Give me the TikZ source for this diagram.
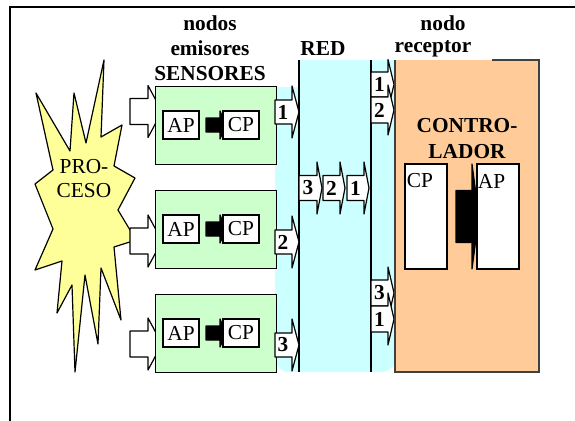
\documentclass[tikz,border=0pt]{standalone}
\usepackage{fontspec}
\setmainfont{Liberation Serif}

\definecolor{procyellow}{HTML}{FFFF99}
\definecolor{sensgreen}{HTML}{CCFFCC}
\definecolor{redcyan}{HTML}{CCFFFF}
\definecolor{ctrlorange}{HTML}{FFCC99}

% block arrow: [style] {x start}{x head}{x tip}{y centre}{half shaft}{half head}
\newcommand{\blockarr}[7][]{%
  \filldraw[arrbody,#1] (#2,#5-#6) -- (#3,#5-#6) -- (#3,#5-#7) -- (#4,#5)
    -- (#3,#5+#7) -- (#3,#5+#6) -- (#2,#5+#6) -- cycle;}

\begin{document}
\begin{tikzpicture}[x=0.75pt, y=-0.75pt, line width=0.9pt,
    font=\fontsize{16}{18.75}\selectfont,
    arrbody/.style={draw=black, fill=white, line join=round},
    numtxt/.style={font=\fontsize{16}{18}\selectfont\bfseries, inner sep=0pt},
    headlbl/.style={font=\fontsize{16}{18.75}\selectfont\bfseries, align=center, inner sep=0pt},
    unit/.style={draw, fill=white, minimum width=27pt, minimum height=21pt, inner sep=0pt}]
  \useasboundingbox (0,0) rectangle (575,421);
  % frame
  \draw[line width=1.5pt] (575,7) -- (10,7) -- (10,421);
  % network
  \fill[redcyan] (275,87) rectangle (395,300);
  \fill[redcyan] (299,60) rectangle (395,90);
  \fill[redcyan, rounded corners=10] (275,280) rectangle (395,372);
  \draw (299,60) -- (299,372);
  \draw (371,60) -- (371,372);
  % process
  \filldraw[fill=procyellow, line join=round] (36,93) -- (70,151) -- (74,93) -- (86,143) -- (104,60)
    -- (101,137) -- (122,125) -- (114,166) -- (135,178) -- (118,210) -- (136,240)
    -- (114,247) -- (121,320) -- (101,268) -- (98,344) -- (85,275) -- (75,372)
    -- (72,285) -- (57,313) -- (62,261) -- (35,270) -- (53,229) -- (35,184)
    -- (53,170) -- cycle;
  \node[align=center, inner sep=0pt, font=\fontsize{16}{18}\selectfont] (proc) at (84,179) {PRO-\\CESO};
  % sensors
  \foreach \y/\i/\o/\n in {86/111.5/112/1, 190/241/242/2, 294/344/345/3}{
    \blockarr{130}{148}{162}{\i}{13}{26}
    \node[draw, fill=sensgreen, anchor=north west, minimum width=90.75pt,
      minimum height=58.5pt, inner sep=0pt] (sens\n) at (155,\y) {};
    \node[unit] (ap\n) at (181,\y+39) {AP};
    \blockarr[fill=black]{206}{220}{226}{\y+39}{7}{14}
    \node[unit] (cp\n) at (241,\y+39) {CP};
    \blockarr{275}{292}{299}{\o}{12}{26}
    \node[numtxt] (out\n) at (283,\o) {\n};
  }
  % packets on the network
  \blockarr{299}{317}{322}{188}{12.5}{26}
  \node[numtxt] (net3) at (308,188) {3};
  \blockarr{323}{340}{345}{188}{12.5}{26}
  \node[numtxt] (net2) at (331.5,188) {2};
  \blockarr{347}{364}{369}{188}{12.5}{26}
  \node[numtxt] (net1) at (355.5,188) {1};
  \blockarr{371}{388}{394}{84.5}{12.5}{25}
  \node[numtxt] (inA1) at (379.5,84.5) {1};
  \blockarr{371}{388}{394}{110}{13}{25}
  \node[numtxt] (inA2) at (379.5,110) {2};
  \blockarr{371}{388}{394}{293}{13}{26}
  \node[numtxt] (inB3) at (379.5,293) {3};
  \blockarr{371}{388}{394}{319}{13}{26}
  \node[numtxt] (inB1) at (379.5,319) {1};
  % controller
  \fill[ctrlorange] (395,60) rectangle (539,372);
  \draw[draw=black!75, line width=1.2pt] (492,60) -- (539,60) -- (539,372) -- (395,372) -- (395,60);
  \node[headlbl, font=\fontsize{16}{19.5}\selectfont\bfseries] (ctrl) at (467,139) {CONTRO-\\LADOR};
  \draw[fill=white] (405,164) rectangle (447,269);
  \node[inner sep=0pt] (cpC) at (420,181) {CP};
  \blockarr[fill=black]{456}{472}{479}{216.5}{26}{52.5}
  \draw[fill=white] (477,164) rectangle (519,269);
  \node[inner sep=0pt] (apC) at (491.5,181) {AP};
  % headings
  \node[headlbl] (sensLbl) at (210,48) {nodos\\emisores\\SENSORES};
  \node[headlbl] (redLbl) at (323,49) {RED};
  \node[headlbl] (nodoLbl) at (443,23) {nodo};
  \node[headlbl] (recLbl) at (433,49) {receptor};
\end{tikzpicture}
\end{document}
